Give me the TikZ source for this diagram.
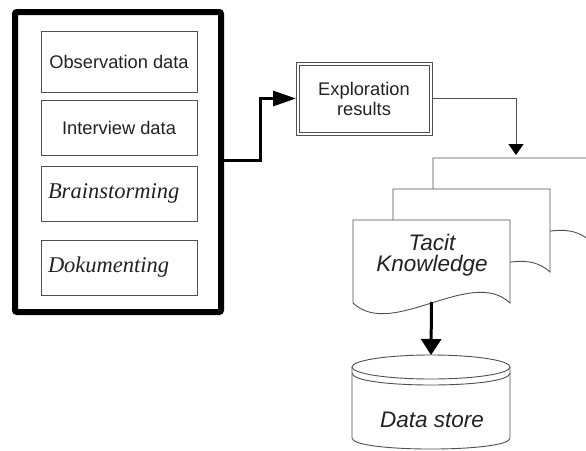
\documentclass[tikz,border=0pt]{standalone}
\usepackage{fontspec}
\setmainfont{Liberation Sans}
\newfontfamily\timesfont{Liberation Serif}
\usetikzlibrary{arrows.meta}
\definecolor{linegray}{HTML}{505050}
\definecolor{textgray}{HTML}{222222}
\newcommand\docpath[2]{(#1,#2+83) -- (#1,#2) -- (#1+157,#2) -- (#1+157,#2+83) .. controls (#1+118,#2+46) and (#1+39,#2+120) .. (#1,#2+83) -- cycle}
\begin{document}
\begin{tikzpicture}[x=1pt,y=-1pt,
  thinline/.style={draw=linegray, line width=0.9pt},
  inbox/.style={thinline, minimum width=156pt, inner sep=0pt, outer sep=0pt, text=textgray},
  sanstxt/.style={text=textgray, font=\fontsize{18.3}{20}\selectfont},
  serifit/.style={text=textgray, font=\timesfont\itshape\fontsize{22.5}{24}\selectfont},
  sansit/.style={text=textgray, font=\itshape\fontsize{22.5}{21}\selectfont},
  thickarrow/.style={line width=3pt, line join=miter}
]
\useasboundingbox (0,0) rectangle (586,450);
\clip (0,0) rectangle (586,450);

% left group
\node[draw=black, line width=6pt, rounded corners=2pt, minimum width=206pt, minimum height=300pt, inner sep=0pt] (outer) at (118,162) {};
\node[inbox, minimum height=61pt, sanstxt] (obs) at (119,61.5) {Observation data};
\node[inbox, minimum height=55pt, sanstxt] (intv) at (119,127.5) {Interview data};
\node[inbox, minimum height=55pt, serifit, text width=142pt, align=left] (brain) at (119,193.5) {Brainstorming};
\node[inbox, minimum height=55pt, serifit, text width=142pt, align=left] (doku) at (119,267.5) {Dokumenting};

% exploration results (double frame)
\node[draw=linegray, line width=0.8pt, minimum width=130pt, minimum height=67pt, inner sep=0pt, outer sep=0pt, sanstxt, align=center] (explor) at (364,98.5) {Exploration\\results};
\draw[draw=linegray, line width=0.8pt] ([xshift=-3pt,yshift=3pt]explor.north west) rectangle ([xshift=3pt,yshift=-3pt]explor.south east);

\draw[thickarrow, -{Triangle[length=23pt,width=15pt]}, shorten >=3pt]
  ([yshift=2pt]outer.east) -- (260,160) |- (explor.west);

% document stack
\draw[thinline, fill=white] \docpath{433}{158};
\draw[thinline, fill=white] \docpath{393}{189};
\draw[thinline, fill=white] \docpath{353}{220};
\node[sansit, align=center] (tacit) at (432,255) {Tacit\\Knowledge};
\coordinate (backtop) at (516,155);
\coordinate (frontbot) at (431.5,302);

\draw[thinline, -{Triangle[length=11pt,width=15pt]}, arrows={[fill=black,color=black]}, shorten <=3pt]
  (explor.east) -| (backtop);

% data store
\draw[thinline, fill=white] (352,367) -- (352,438) .. controls (352,452.7) and (510,452.7) .. (510,438) -- (510,367);
\draw[thinline, fill=white] (431,367) ellipse[x radius=79, y radius=12];
\draw[thinline] (352,373) .. controls (352,389) and (510,389) .. (510,373);
\node[inner sep=0pt, outer sep=0pt, minimum width=158pt, minimum height=94pt] (store) at (431,402) {};
\node[sansit] (dslabel) at (432,420) {Data store};

\draw[thickarrow, -{Triangle[length=16pt,width=20pt]}] (frontbot) -- (store.north);
\end{tikzpicture}
\end{document}
